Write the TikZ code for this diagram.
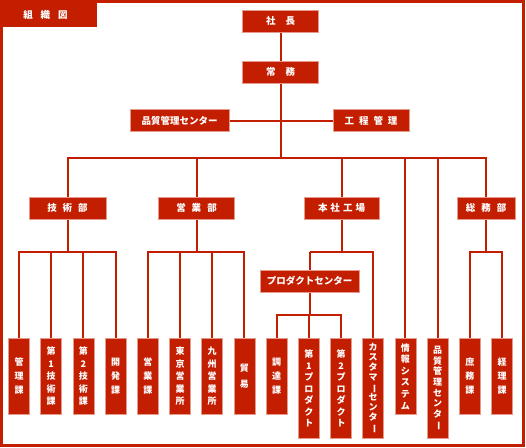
\documentclass[tikz,border=0pt]{standalone}
\usepackage{fontspec}
\newfontfamily\jp{Noto Sans CJK JP}
\usetikzlibrary{backgrounds}
\definecolor{orgred}{RGB}{196,30,0}
\newcommand\vbar{\rotatebox[origin=c]{-90}{ー}}

\begin{document}
\begin{tikzpicture}[x=1pt, y=-1pt,
    post/.style={rectangle, fill=orgred, draw=orgred!45, line width=0.8pt, text=white,
        font=\jp\bfseries\fontsize{9.5}{11}\selectfont, minimum width=76pt, minimum height=22pt, inner sep=0pt},
    unit/.style={rectangle, fill=orgred, draw=orgred!45, line width=0.8pt, text=white,
        font=\jp\bfseries\fontsize{9}{#1}\selectfont, align=center, anchor=north,
        minimum width=21pt, minimum height=76pt, inner sep=0pt},
    unit/.default=14,
    tall/.style={minimum height=100pt},
    link/.style={orgred, line width=2pt}
]
    \useasboundingbox (0,0) rectangle (526,447);

    % --- frame and title tab ---
    \draw[orgred, line width=3pt] (1.5,1.5) rectangle (523.5,445.5);
    \fill[orgred] (0,0) rectangle (97,27);
    \node[text=white, font=\jp\bfseries\fontsize{9.5}{11}\selectfont] (title) at (45.5,14.5) {組\hspace{8pt}織\hspace{8pt}図};

    % --- top management ---
    \node[post] (shacho) at (280.5,21) {社\hspace{10pt}長};
    \node[post] (jomu) at (280.5,72) {常\hspace{10pt}務};
    \node[post, minimum width=99pt] (hinshitsu) at (179.5,120.5) {品質管理センター};
    \node[post] (kotei) at (371,120.5) {工\hspace{5pt}程\hspace{5pt}管\hspace{5pt}理};

    % --- departments ---
    \node[post, minimum width=77pt] (gijutsu) at (67.5,208) {技\hspace{6pt}術\hspace{6pt}部};
    \node[post] (eigyo) at (196.5,208) {営\hspace{6pt}業\hspace{6pt}部};
    \node[post, minimum width=75pt] (honsha) at (341.5,208) {本\hspace{3pt}社\hspace{3pt}工\hspace{3pt}場};
    \node[post, minimum width=58pt] (somu) at (486,208) {総\hspace{6pt}務\hspace{6pt}部};
    \node[post, minimum width=99pt] (product) at (309.5,281) {プロダクトセンター};

    % --- sections ---
    \node[unit] (kanri) at (19,338) {管\\理\\課};
    \node[unit=12.5] (gi1) at (51.2,338) {第\\1\\技\\術\\課};
    \node[unit=12.5] (gi2) at (83.4,338) {第\\2\\技\\術\\課};
    \node[unit] (kaihatsu) at (115.6,338) {開\\発\\課};
    \node[unit] (eigyoka) at (147.8,338) {営\\業\\課};
    \node[unit=12.5] (tokyo) at (180,338) {東\\京\\営\\業\\所};
    \node[unit=12.5] (kyushu) at (212.2,338) {九\\州\\営\\業\\所};
    \node[unit=16] (boeki) at (244.4,338) {貿\\易};
    \node[unit] (chotatsu) at (276.6,338) {調\\達\\課};
    \node[unit=11.5, tall] (pr1) at (308.8,338) {第\\1\\プ\\ロ\\ダ\\ク\\ト};
    \node[unit=11.5, tall] (pr2) at (341,338) {第\\2\\プ\\ロ\\ダ\\ク\\ト};
    \node[unit=10, tall] (customer) at (373.2,338) {カ\\ス\\タ\\マ\\\vbar\\セ\\ン\\タ\\\vbar};
    \node[unit=11.6] (joho) at (405.4,338) {情\\報\\シ\\ス\\テ\\ム};
    \node[unit=10.7, tall] (hinkan) at (437.6,338) {品\\質\\管\\理\\セ\\ン\\タ\\\vbar};
    \node[unit] (shomu) at (469.8,338) {庶\\務\\課};
    \node[unit] (keiri) at (502,338) {経\\理\\課};

    % --- connectors ---
    \coordinate (lv1) at (0,158);
    \coordinate (lv2) at (0,252);
    \coordinate (lv3) at (0,315);
    \begin{scope}[on background layer]
        \draw[link] (shacho) -- (jomu);
        \draw[link] (jomu) -- (jomu |- lv1);
        \draw[link] (hinshitsu) -- (kotei);
        \foreach \d in {gijutsu, eigyo, honsha, joho, hinkan, somu}
            \draw[link] (\d) |- (jomu |- lv1);

        \draw[link] (gijutsu) -- (gijutsu |- lv2);
        \foreach \u in {kanri, gi1, gi2, kaihatsu}
            \draw[link] (\u) |- (gijutsu |- lv2);

        \draw[link] (eigyo) -- (eigyo |- lv2);
        \foreach \u in {eigyoka, tokyo, kyushu, boeki}
            \draw[link] (\u) |- (eigyo |- lv2);

        \draw[link] (honsha) -- (honsha |- lv2);
        \draw[link] (product) -- (product |- lv2);
        \draw[link] (customer) |- (product |- lv2);
        \draw[link] (product) -- (product |- lv3);
        \foreach \u in {chotatsu, pr1, pr2}
            \draw[link] (\u) |- (product |- lv3);

        \draw[link] (somu) -- (somu |- lv2);
        \foreach \u in {shomu, keiri}
            \draw[link] (\u) |- (somu |- lv2);
    \end{scope}

\end{tikzpicture}
\end{document}
